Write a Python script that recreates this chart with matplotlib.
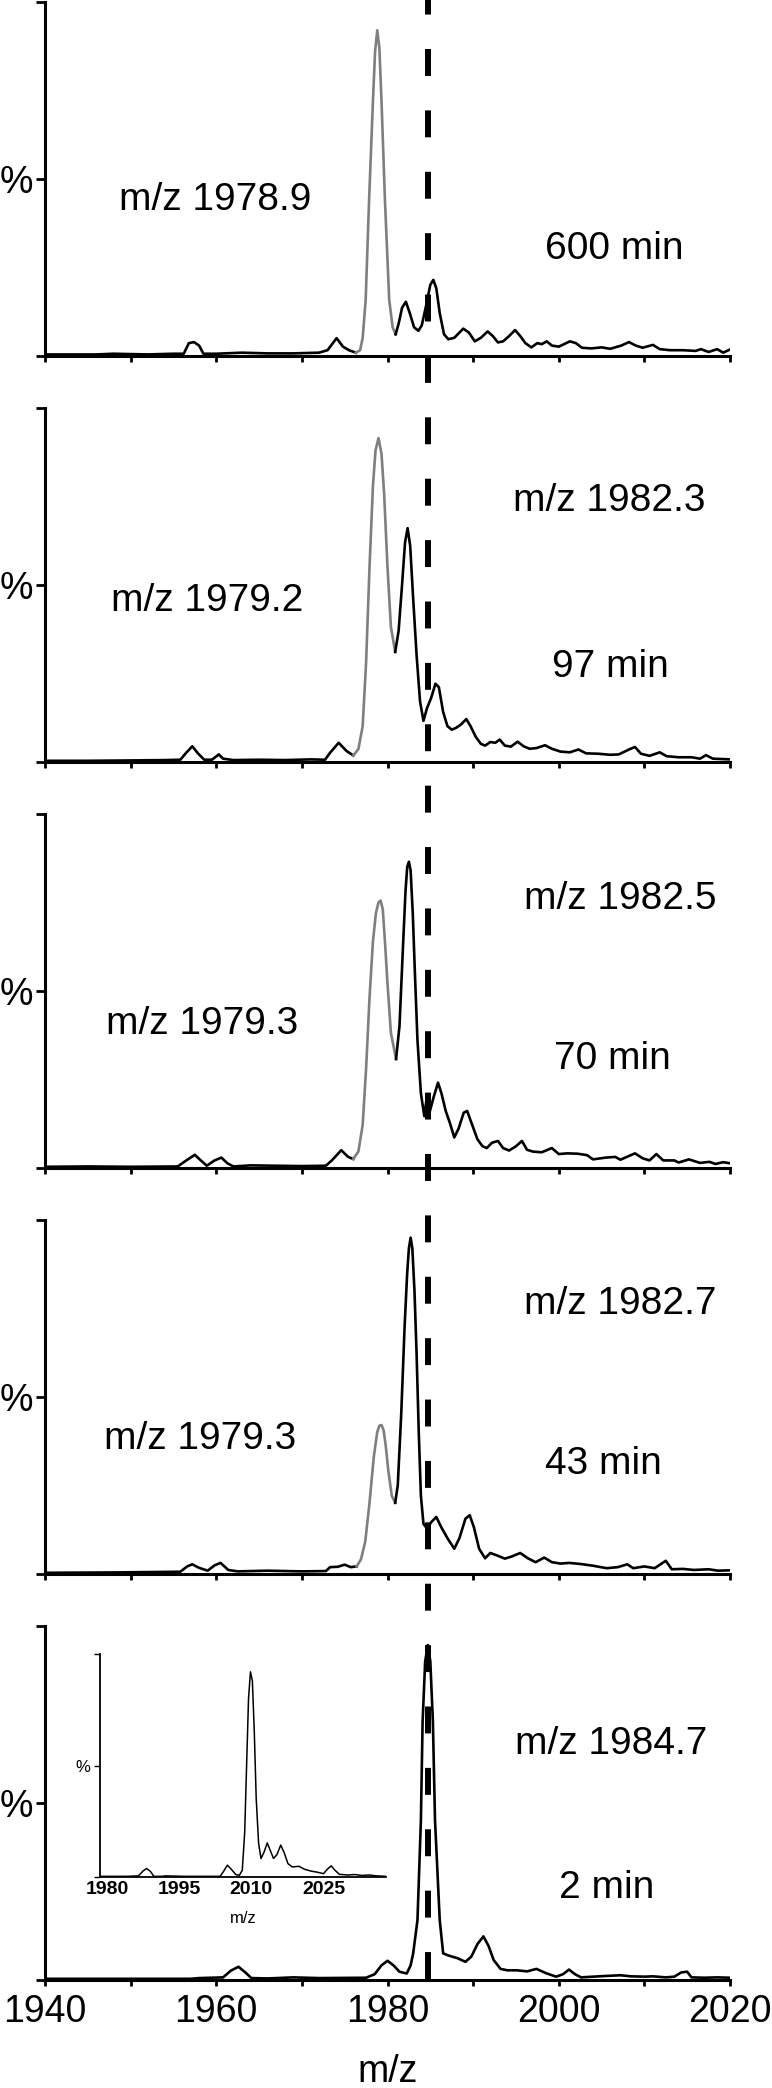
import matplotlib
matplotlib.use('Agg')
import matplotlib.pyplot as plt
import numpy as np

plt.rcParams['font.family'] = ['Liberation Sans', 'DejaVu Sans']

# ---------------- data ----------------
# Panel 1: 600 min
p1_mz = [1940, 1946, 1948, 1952, 1955, 1956.2, 1956.8, 1957.4, 1958.0, 1958.5, 1960, 1963, 1966, 1969, 1972, 1973,
         1974.05, 1974.8, 1975.5, 1976.3, 1976.8, 1977.1, 1977.45, 1977.85, 1978.3, 1978.55, 1978.8, 1979.05,
         1979.3, 1979.7, 1980.2, 1980.6, 1980.95, 1981.3, 1981.7, 1982.15, 1982.6, 1983.1, 1983.6, 1984.0,
         1984.5, 1985.0, 1985.35, 1985.7, 1986.1, 1986.6, 1987.1, 1987.8, 1988.4, 1988.85, 1989.5, 1990.2,
         1990.9, 1991.7, 1992.3, 1992.9, 1993.5, 1994.2, 1994.9, 1995.5, 1996.1, 1996.8, 1997.5, 1998.0,
         1998.6, 1999.2, 2000, 2001.3, 2002, 2002.7, 2003.8, 2005, 2006, 2007.3, 2008.2, 2009.0, 2009.8,
         2011.0, 2011.8, 2013, 2014.5, 2016, 2016.6, 2017.5, 2018.5, 2019.2, 2020]
p1_int = [0.3, 0.3, 0.5, 0.3, 0.5, 0.5, 3.5, 3.8, 2.8, 0.5, 0.5, 0.8, 0.6, 0.6, 0.8, 1.5,
          4.9, 2.5, 1.5, 0.8, 1.5, 5, 15.7, 44, 72, 86, 92, 87,
          72, 44, 15.7, 8, 6, 9, 13.5, 15.2, 12, 8, 7, 8.5,
          14, 20, 21.4, 19, 12, 6, 4.6, 5, 6.5, 7.6, 6.5, 4.0,
          5.0, 6.8, 5.5, 3.7, 4, 5.5, 7.2, 5.5, 3.5, 2.3, 3.5, 3.2,
          4.0, 2.8, 2.5, 4.0, 3.5, 2.2, 2.0, 2.3, 1.9, 2.8, 3.8, 2.8, 2.2,
          3.0, 1.8, 1.5, 1.5, 1.3, 1.8, 1.0, 1.8, 0.8, 1.7]

# Panel 2: 97 min
p2_mz = [1940, 1945, 1950, 1954, 1955.8, 1956.5, 1957.2, 1957.9, 1958.6, 1959.5, 1960.3, 1960.8, 1962, 1965, 1968,
         1971, 1972.7, 1973.3, 1974.3, 1975.2, 1976.0, 1976.6, 1977.1, 1977.5, 1977.9, 1978.3, 1978.6, 1978.95,
         1979.3, 1979.6, 1980.0, 1980.4, 1980.9, 1981.3, 1981.7, 1982.05, 1982.35, 1982.65, 1983.0, 1983.4,
         1983.8, 1984.2, 1984.6, 1985.1, 1985.6, 1986.0, 1986.5, 1987.0, 1987.5, 1988.0, 1988.6, 1989.2,
         1989.7, 1990.3, 1990.9, 1991.4, 1992.0, 1992.6, 1993.1, 1993.7, 1994.4, 1995.2, 1995.9, 1996.6,
         1997.4, 1998.4, 1999.2, 2000.2, 2001.3, 2002.3, 2003.2, 2004.6, 2006, 2007, 2008.3, 2008.9, 2009.6,
         2010.6, 2011.8, 2012.6, 2014, 2015.5, 2016.5, 2017.2, 2018.0, 2019, 2020]
p2_int = [0.2, 0.2, 0.3, 0.4, 0.5, 2.5, 4.3, 2.2, 0.5, 0.5, 2.0, 0.8, 0.4, 0.5, 0.4,
          0.6, 0.5, 2.5, 5.3, 3.0, 1.7, 3.5, 10, 28, 55, 78, 88, 91.5,
          87, 76, 55, 38, 31, 37, 50, 62, 66, 61, 46, 30,
          17, 11.5, 15, 18, 22, 21, 14, 10, 9, 9.5, 10.5, 12,
          10, 7, 5, 4.5, 5.5, 5.3, 6.2, 4.5, 4.2, 5.6, 4.3, 3.6,
          3.8, 4.6, 3.6, 2.8, 2.6, 3.4, 2.3, 2.2, 1.9, 2.0, 3.5, 4.1, 2.2,
          1.6, 2.6, 1.5, 1.2, 1.2, 0.8, 1.8, 0.8, 0.7, 0.6]

# Panel 3: 70 min
p3_mz = [1940, 1945, 1950, 1955.5, 1956.5, 1957.5, 1958.2, 1958.9, 1959.8, 1960.6, 1961.3, 1962, 1964, 1967, 1970,
         1972.8, 1973.5, 1974.6, 1975.4, 1976.0, 1976.6, 1977.1, 1977.5, 1977.9, 1978.3, 1978.65, 1978.95, 1979.2,
         1979.45, 1979.7, 1980.0, 1980.4, 1981.0, 1981.4, 1981.8, 1982.1, 1982.3, 1982.5, 1982.7, 1982.95, 1983.2,
         1983.5, 1983.9, 1984.3, 1984.6, 1984.9, 1985.4, 1985.9, 1986.3, 1986.8, 1987.3, 1987.8, 1988.3, 1988.9,
         1989.3, 1989.9, 1990.5, 1991.1, 1991.6, 1992.2, 1992.9, 1993.5, 1994.2, 1995.0, 1995.7, 1996.3, 1997.0,
         1998.0, 1999.2, 2000.0, 2001.0, 2002.2, 2003.3, 2004, 2005.5, 2006.6, 2007.2, 2008.9, 2009.8, 2010.6,
         2011.4, 2012.2, 2013.5, 2014.0, 2015.2, 2016.5, 2017.6, 2018.3, 2019.2, 2020]
p3_int = [0.2, 0.3, 0.2, 0.3, 2.0, 3.6, 2.0, 0.5, 2.0, 2.8, 1.2, 0.3, 0.6, 0.5, 0.4,
          0.5, 2.0, 4.9, 3.0, 2.4, 4.5, 12, 28, 48, 64, 72, 75, 75.5,
          73, 64, 52, 38, 30.7, 40, 62, 78, 85, 86.5, 84, 72, 55,
          36, 21, 14.5, 20, 15.5, 20, 24, 21, 16, 12.5, 8.5, 11, 15.5,
          16, 12, 8, 6, 5.5, 7, 7.5, 5.5, 4.8, 6.0, 7.5, 5.0, 4.5,
          4.3, 5.5, 3.8, 4.0, 3.9, 3.5, 2.3, 2.8, 3.0, 2.2, 4.0, 2.6, 2.0,
          3.8, 2.0, 2.0, 1.4, 2.3, 1.3, 1.6, 1.0, 1.5, 1.2]

# Panel 4: 43 min
p4_mz = [1940, 1948, 1952, 1955.8, 1956.6, 1957.2, 1958.0, 1959.0, 1959.8, 1960.5, 1961.4, 1962.5, 1966, 1970,
         1972.8, 1973.3, 1974.2, 1975.0, 1975.7, 1976.4, 1976.9, 1977.4, 1977.9, 1978.4, 1978.8, 1979.05, 1979.3,
         1979.55, 1979.8, 1980.1, 1980.5, 1980.9, 1981.2, 1981.6, 1982.0, 1982.3, 1982.5, 1982.7, 1982.9, 1983.15,
         1983.4, 1983.65, 1983.9, 1984.2, 1984.6, 1985.1, 1985.7, 1986.3, 1987.0, 1987.8, 1988.4, 1989.1, 1989.6,
         1990.1, 1990.7, 1991.4, 1992.0, 1992.7, 1993.7, 1994.5, 1995.5, 1996.4, 1997.3, 1998.3, 1999.2, 2000.2,
         2001.2, 2002.5, 2004, 2005.6, 2006.9, 2008.0, 2008.7, 2010.0, 2011.2, 2012.5, 2013.2, 2014.5, 2015.8,
         2017.5, 2018.6, 2020]
p4_int = [0.2, 0.3, 0.4, 0.5, 2.0, 2.6, 1.6, 0.8, 2.3, 3.0, 1.0, 0.6, 0.8, 0.6,
          0.7, 1.8, 1.9, 2.5, 1.8, 2.0, 4, 9, 20, 33, 40, 41.8, 42,
          40.5, 36, 29, 22, 20, 25, 45, 70, 85, 92, 95, 92, 80,
          62, 40, 22, 14, 12.8, 14.5, 16, 13, 10, 7, 10, 15.5, 16.5,
          13, 7, 4.3, 5.8, 5.2, 4.2, 4.8, 5.8, 4.3, 3.2, 4.5, 3.2, 2.8,
          3.0, 2.7, 2.2, 1.5, 1.8, 2.6, 1.5, 2.0, 1.5, 3.6, 1.2, 1.3, 1.0,
          1.2, 0.8, 0.9]

# Panel 5: 2 min
p5_mz = [1940, 1950, 1957, 1958, 1960.8, 1961.7, 1962.6, 1963.4, 1964.1, 1966, 1969, 1972, 1977.5, 1978.5, 1979.3,
         1980.0, 1980.7, 1981.4, 1982.25, 1982.7, 1983.0, 1983.5, 1983.9, 1984.1, 1984.4, 1984.7, 1985.0, 1985.3,
         1985.55, 1986.1, 1986.5, 1987.1, 1988.2, 1989.1, 1989.8, 1990.5, 1991.2, 1991.8, 1992.4, 1993.2, 1994.0,
         1995.1, 1996.3, 1997.4, 1998.5, 1999.7, 2000.5, 2001.2, 2001.9, 2002.6, 2004, 2005.5, 2007.2, 2008.4,
         2010.1, 2011, 2012.5, 2013.5, 2014.3, 2015.0, 2015.5, 2017, 2018.5, 2020]
p5_int = [0.2, 0.2, 0.2, 0.4, 0.6, 2.5, 3.6, 2.0, 0.4, 0.3, 0.6, 0.4, 0.5, 1.5, 4.0,
          5.3, 4.0, 2.2, 1.7, 4.0, 7.4, 16.8, 45, 73, 90, 94.6, 90, 73,
          45, 16.8, 7.4, 6.8, 6.0, 5.0, 6.5, 10, 12.2, 9.5, 5.5, 3.0, 2.6,
          2.6, 2.3, 3.0, 1.8, 0.8, 1.5, 2.8, 1.5, 0.6, 0.8, 1.0, 1.2, 0.9,
          0.8, 0.9, 0.6, 0.8, 2.0, 2.2, 0.6, 0.5, 0.6, 0.5]

# Inset spectrum
inset_mz = [1978.5, 1984, 1986.5, 1987.5, 1988.2, 1989.0, 1989.7, 1991.5, 1992, 1996, 2001, 2003.5, 2004.2, 2005.0,
            2005.8, 2006.8, 2007.5, 2008.1, 2008.6, 2009.0, 2009.4, 2009.8, 2010.2, 2010.6, 2011.0, 2011.5, 2012.0,
            2012.6, 2013.3, 2013.9, 2014.6, 2015.3, 2016.1, 2016.8, 2017.6, 2018.5, 2019.9, 2021, 2022.5, 2023.6,
            2025.0, 2025.8, 2026.6, 2027.3, 2028.3, 2030, 2031.5, 2033, 2034.5, 2036, 2038]
inset_int = [0.3, 0.3, 0.5, 2.8, 3.8, 2.5, 0.3, 0.3, 0.5, 0.3, 0.3, 0.3, 2.5, 5.3,
             3.5, 1.0, 0.8, 3, 20, 50, 80, 92, 88, 65, 35, 15, 8.3,
             11, 15.3, 12, 8.3, 10, 14.3, 11, 6, 4.5, 4.8, 3.5, 2.6, 2.2,
             1.5, 3.5, 5, 3.2, 1.2, 0.9, 1.1, 0.7, 0.9, 0.5, 0.3]

# Gray (m/z ~1979 species) segment of each trace, None = none
gray_ranges = [(1976.3, 1980.95), (1976.0, 1980.9), (1976.0, 1981.0), (1976.4, 1980.9), None]

time_labels = ['600 min', '97 min', '70 min', '43 min', '2 min']
left_ion_labels = ['m/z 1978.9', 'm/z 1979.2', 'm/z 1979.3', 'm/z 1979.3', None]
right_ion_labels = [None, 'm/z 1982.3', 'm/z 1982.5', 'm/z 1982.7', 'm/z 1984.7']
ref_mz = 1984.7
x_ticks = [1940, 1950, 1960, 1970, 1980, 1990, 2000, 2010, 2020]
x_ticklabels = ['1940', '', '1960', '', '1980', '', '2000', '', '2020']
inset_ticks = [1980, 1995, 2010, 2025]

spectra = [(p1_mz, p1_int), (p2_mz, p2_int), (p3_mz, p3_int), (p4_mz, p4_int), (p5_mz, p5_int)]

# ---------------- layout ----------------
W, H = 772, 2088
fig = plt.figure(figsize=(W / 100, H / 100), dpi=100)

left_px, right_px = 45, 730
top0, base0, step = 2, 355.5, 406
FS = 28
LW = 1.9

# text positions (data coords) per panel
left_pos = [(1948.6, 44), (1947.7, 45.5), (1947.1, 40.7), (1946.9, 38), None]
right_pos = [None, (1994.6, 73.7), (1995.9, 76), (1996.0, 76.3), (1994.9, 66.7)]
time_pos = [(2006.5, 30), (2006.0, 26.6), (2006.3, 30.8), (2005.2, 31), (2005.6, 26)]

for i, (mz, inten) in enumerate(spectra):
    base = base0 + step * i
    top = top0 + step * i
    ax = fig.add_axes([left_px / W, 1 - base / H, (right_px - left_px) / W, (base - top) / H])
    mz = np.asarray(mz, float)
    inten = np.asarray(inten, float)
    gr = gray_ranges[i]
    if gr is None:
        ax.plot(mz, inten, color='black', lw=LW, solid_joinstyle='round')
    else:
        a, b = gr
        m1 = mz <= a
        m2 = (mz >= a) & (mz <= b)
        m3 = mz >= b
        ax.plot(mz[m1], inten[m1], color='black', lw=LW, solid_joinstyle='round')
        ax.plot(mz[m2], inten[m2], color='#7f7f7f', lw=LW, solid_joinstyle='round')
        ax.plot(mz[m3], inten[m3], color='black', lw=LW, solid_joinstyle='round')
    ax.set_xlim(1940, 2020)
    ax.set_ylim(0, 100)
    for s in ['top', 'right']:
        ax.spines[s].set_visible(False)
    for s in ['left', 'bottom']:
        ax.spines[s].set_linewidth(2.2)
    ax.set_yticks([0, 50, 100])
    ax.set_yticklabels(['', '%', ''], fontsize=FS - 1)
    ax.tick_params(axis='y', direction='out', length=6.5, width=2.0, pad=2)
    ax.set_xticks(x_ticks)
    ax.tick_params(axis='x', direction='out', length=4.5, width=2.0, pad=6)
    if i == 4:
        ax.set_xticklabels(x_ticklabels, fontsize=FS - 1)
    else:
        ax.set_xticklabels([])
    if left_ion_labels[i]:
        x, y = left_pos[i]
        ax.text(x, y, left_ion_labels[i], fontsize=FS, ha='left', va='center')
    if right_ion_labels[i]:
        x, y = right_pos[i]
        ax.text(x, y, right_ion_labels[i], fontsize=FS, ha='left', va='center')
    x, y = time_pos[i]
    ax.text(x, y, time_labels[i], fontsize=FS, ha='center', va='center')

fig.text(387.5 / W, 1 - 2072 / H, 'm/z', fontsize=FS - 1, ha='center', va='center')

# inset
ins = fig.add_axes([100 / W, 1 - 1877 / H, (386 - 100) / W, (1877 - 1654) / H])
ins.plot(inset_mz, inset_int, color='black', lw=1.1)
ins.set_xlim(1978.5, 2038)
ins.set_ylim(0, 100)
for s in ['top', 'right']:
    ins.spines[s].set_visible(False)
for s in ['left', 'bottom']:
    ins.spines[s].set_linewidth(1.3)
ins.set_xticks(inset_ticks)
ins.set_xticklabels([str(t) for t in inset_ticks], fontsize=14, fontweight='bold')
ins.tick_params(axis='x', direction='out', length=0, pad=3)
ins.set_yticks([0, 50, 100])
ins.set_yticklabels(['', '%', ''], fontsize=12)
ins.tick_params(axis='y', direction='out', length=4, width=1.0, pad=3)
ins.set_xlabel('m/z', fontsize=12, labelpad=9)
ins.patch.set_alpha(0)

# dashed reference line spanning all panels
ov = fig.add_axes([left_px / W, 1 - 1979.3 / H, (right_px - left_px) / W, 1979.3 / H], zorder=10)
ov.set_xlim(1940, 2020)
ov.set_ylim(0, 1)
ov.axis('off')
ov.patch.set_alpha(0)
lw = 4.3
ov.axvline(ref_mz, ymin=0, ymax=1, color='black', lw=lw, dash_capstyle='butt',
           linestyle=(0, (19.4 / lw, 24.8 / lw)))

fig.savefig('out.png', dpi=100)
